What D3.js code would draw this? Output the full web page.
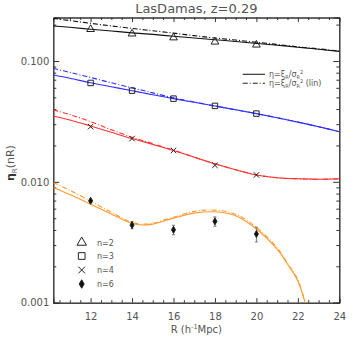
<!DOCTYPE html>
<html>
<head>
<meta charset="utf-8">
<script src="https://cdn.jsdelivr.net/npm/d3@7"></script>
<style>
  body { margin: 0; background: #fff; }
  svg text { font-family: "DejaVu Sans", sans-serif; fill: #555; }
</style>
</head>
<body>
<div id="chart"></div>
<script>
/* DATA */
const pointR = [12, 14, 16, 18, 20];
const n2 = [0.183, 0.168, 0.156, 0.144, 0.136];
const n3 = [0.0658, 0.0568, 0.0488, 0.0425, 0.0367];
const n4 = [0.0286, 0.0228, 0.0182, 0.0137, 0.0114];
const n6 = [0.00697, 0.00439, 0.00401, 0.00471, 0.0037];
const n6err = [0.0001, 0.0003, 0.00036, 0.00042, 0.00052];

// model curves
const curveR = [10.2, 11, 12, 13, 14, 14.5, 15, 16, 17, 18, 19, 20, 21, 22, 22.5, 23, 24];
const n2model = [0.195, 0.190, 0.183, 0.177, 0.171, 0.1685, 0.166, 0.160, 0.155, 0.150, 0.145, 0.140, 0.135, 0.130, 0.1275, 0.125, 0.120];
const n2lin   = [0.225, 0.216, 0.205, 0.195, 0.186, 0.182, 0.178, 0.170, 0.162, 0.155, 0.149, 0.143, 0.137, 0.131, 0.1285, 0.126, 0.121];
const n3model = [0.0766, 0.0720, 0.0660, 0.0612, 0.0568, 0.0546, 0.0526, 0.0488, 0.0455, 0.0424, 0.0395, 0.0367, 0.0339, 0.0312, 0.0299, 0.0286, 0.0260];
const n3lin   = [0.0870, 0.0805, 0.0730, 0.0660, 0.0600, 0.0572, 0.0545, 0.0495, 0.0458, 0.0424, 0.0395, 0.0367, 0.0339, 0.0312, 0.0299, 0.0286, 0.0260];
const n4model = [0.0351, 0.0325, 0.0290, 0.0257, 0.0228, 0.0216, 0.0204, 0.0182, 0.0160, 0.0141, 0.0126, 0.0114, 0.0108, 0.0106, 0.01055, 0.0105, 0.0106];
const n4lin   = [0.0394, 0.0360, 0.0315, 0.0270, 0.0234, 0.0220, 0.0207, 0.0183, 0.0160, 0.0141, 0.0126, 0.0114, 0.0108, 0.0106, 0.01055, 0.0105, 0.0106];
const orangeR = [10.2, 11, 12, 13, 14, 14.5, 15, 16, 17, 18, 19, 20, 21, 21.5, 22, 22.5];
const n6model = [0.00899, 0.00784, 0.00654, 0.00541, 0.00453, 0.00440, 0.00447, 0.00501, 0.00551, 0.00565, 0.00524, 0.00407, 0.00278, 0.00209, 0.00151, 0.0008];
const n6lin   = [0.00989, 0.00850, 0.00693, 0.00560, 0.00462, 0.00447, 0.00455, 0.00510, 0.00570, 0.00583, 0.00540, 0.00420, 0.00285, 0.00212, 0.00155, 0.0008];

const xMajor = [12, 14, 16, 18, 20, 22, 24];
const yMajor = [0.001, 0.01, 0.1];
const legendLabels = ["n=2", "n=3", "n=4", "n=6"];

/* LAYOUT */
const width = 358, height = 358,
  margin = { top: 17.5, bottom: 55.3, left: 53.3, right: 18.7 };

const svg = d3.select("#chart").append("svg")
  .attr("width", width).attr("height", height);

const xScale = d3.scaleLinear().domain([10.2, 24]).range([margin.left, width - margin.right]);
const yScale = d3.scaleLog().domain([0.001, 0.229]).range([height - margin.bottom, margin.top]);

const plotBottom = yScale.range()[0], plotTop = margin.top;
const plotLeft = margin.left, plotRight = xScale.range()[1];

svg.append("clipPath").attr("id", "clip")
  .append("rect")
  .attr("x", plotLeft).attr("y", plotTop)
  .attr("width", plotRight - plotLeft)
  .attr("height", plotBottom - plotTop);

/* AXES */
const xMinor = d3.range(10.5, 24.01, 0.5).filter(d => !xMajor.includes(d));
const yMinor = [];
[0.001, 0.01, 0.1].forEach(dec => d3.range(2, 10).forEach(m => {
  const v = dec * m;
  if (v < 0.229) yMinor.push(v);
}));

const axisColor = "#333";
function styleAxis(g) {
  g.select(".domain").attr("stroke", axisColor);
  g.selectAll(".tick line").attr("stroke", axisColor);
  g.selectAll(".tick text").attr("font-size", 10).attr("fill", "#555");
}

svg.append("g").attr("transform", `translate(0,${plotBottom})`)
  .call(d3.axisBottom(xScale).tickValues(xMinor).tickSize(-2.5).tickFormat(""))
  .call(styleAxis);
svg.append("g").attr("transform", `translate(0,${plotBottom})`)
  .call(d3.axisBottom(xScale).tickValues(xMajor).tickSize(-4.5).tickPadding(10).tickFormat(d3.format("d")))
  .call(styleAxis);
svg.append("g").attr("transform", `translate(0,${plotTop})`)
  .call(d3.axisTop(xScale).tickValues(xMinor).tickSize(-2.5).tickFormat(""))
  .call(styleAxis);
svg.append("g").attr("transform", `translate(0,${plotTop})`)
  .call(d3.axisTop(xScale).tickValues(xMajor).tickSize(-4.5).tickFormat(""))
  .call(styleAxis);

svg.append("g").attr("transform", `translate(${plotLeft},0)`)
  .call(d3.axisLeft(yScale).tickValues(yMinor).tickSize(-3).tickFormat(""))
  .call(styleAxis);
svg.append("g").attr("transform", `translate(${plotLeft},0)`)
  .call(d3.axisLeft(yScale).tickValues(yMajor).tickSize(-6).tickPadding(4).tickFormat(d3.format(".3f")))
  .call(styleAxis);
svg.append("g").attr("transform", `translate(${plotRight},0)`)
  .call(d3.axisRight(yScale).tickValues(yMinor).tickSize(-3).tickFormat(""))
  .call(styleAxis);
svg.append("g").attr("transform", `translate(${plotRight},0)`)
  .call(d3.axisRight(yScale).tickValues(yMajor).tickSize(-6).tickFormat(""))
  .call(styleAxis);

/* TITLES */
svg.append("text")
  .attr("x", (plotLeft + plotRight) / 2).attr("y", 13)
  .attr("text-anchor", "middle").attr("font-size", 13)
  .text("LasDamas, z=0.29");

const xl = svg.append("text")
  .attr("x", (plotLeft + plotRight) / 2).attr("y", 333)
  .attr("text-anchor", "middle").attr("font-size", 10);
xl.append("tspan").text("R (h");
xl.append("tspan").attr("font-size", 6.5).attr("dy", -4).text("-1");
xl.append("tspan").attr("dy", 4).text("Mpc)");

const yl = svg.append("text")
  .attr("transform", `translate(14,${(plotTop + plotBottom) / 2 + 3}) rotate(-90)`)
  .attr("text-anchor", "middle").attr("font-size", 11);
yl.append("tspan").attr("font-weight", "bold").attr("fill", "#333").text("η");
yl.append("tspan").attr("font-size", 7).attr("dy", 3).text("R");
yl.append("tspan").attr("dy", -3).text("(nR)");

/* CURVES */
const plot = svg.append("g").attr("clip-path", "url(#clip)");
const dashDot = "5,2,1,2";
const curves = [
  { xs: curveR, ys: n2model, color: "#111", dash: null },
  { xs: curveR, ys: n2lin, color: "#111", dash: dashDot },
  { xs: curveR, ys: n3model, color: "#2e2eff", dash: null },
  { xs: curveR, ys: n3lin, color: "#2e2eff", dash: dashDot },
  { xs: curveR, ys: n4model, color: "#ff3333", dash: null },
  { xs: curveR, ys: n4lin, color: "#ff3333", dash: dashDot },
  { xs: orangeR, ys: n6model, color: "#ff9a30", dash: null },
  { xs: orangeR, ys: n6lin, color: "#ff9a30", dash: dashDot },
];
const line = d3.line()
  .x(d => xScale(d[0])).y(d => yScale(d[1]))
  .curve(d3.curveCatmullRom.alpha(0.5));

plot.selectAll(".model")
  .data(curves)
  .join("path")
  .attr("class", "model")
  .attr("fill", "none")
  .attr("stroke", d => d.color)
  .attr("stroke-width", 1.1)
  .attr("stroke-dasharray", d => d.dash)
  .attr("d", d => line(d.xs.map((x, i) => [x, d.ys[i]])));

/* POINTS */
const timesSymbol = {
  draw(ctx, size) {
    const r = Math.sqrt(size) / 2;
    ctx.moveTo(-r, -r); ctx.lineTo(r, r);
    ctx.moveTo(-r, r); ctx.lineTo(r, -r);
  }
};
const series = [
  { ys: n2, sym: d3.symbolTriangle, size: 26, fill: "none" },
  { ys: n3, sym: d3.symbolSquare, size: 30, fill: "none" },
  { ys: n4, sym: timesSymbol, size: 30, fill: "none" },
  { ys: n6, sym: d3.symbolDiamond, size: 14, fill: "#111" },
];

// error bars for n=6
plot.selectAll(".err")
  .data(pointR.map((x, i) => ({ x, y: n6[i], e: n6err[i] })))
  .join("g")
  .attr("class", "err")
  .attr("stroke", "#777")
  .attr("stroke-width", 1)
  .each(function (d) {
    const g = d3.select(this);
    const cx = xScale(d.x);
    g.append("line").attr("x1", cx).attr("x2", cx)
      .attr("y1", yScale(d.y - d.e)).attr("y2", yScale(d.y + d.e));
    [d.y - d.e, d.y + d.e].forEach(v => g.append("line")
      .attr("x1", cx - 1.5).attr("x2", cx + 1.5)
      .attr("y1", yScale(v)).attr("y2", yScale(v)));
  });

series.forEach(s => {
  plot.selectAll(null)
    .data(pointR.map((x, i) => [x, s.ys[i]]))
    .join("path")
    .attr("transform", d => `translate(${xScale(d[0])},${yScale(d[1])})`)
    .attr("d", d3.symbol(s.sym, s.size))
    .attr("fill", s.fill)
    .attr("stroke", "#222")
    .attr("stroke-width", 1);
});

/* LEGENDS */
const legY = [242.5, 256, 270, 284];
series.forEach((s, i) => {
  svg.append("path")
    .attr("transform", `translate(81.7,${legY[i]})`)
    .attr("d", d3.symbol(s.sym, s.size * 1.5))
    .attr("fill", s.fill)
    .attr("stroke", "#222")
    .attr("stroke-width", 1);
  svg.append("text")
    .attr("x", 97).attr("y", legY[i] + 3)
    .attr("font-size", 8)
    .text(legendLabels[i]);
});

const lineLeg = [
  { y: 74.3, dash: null, extra: "" },
  { y: 83.3, dash: dashDot, extra: " (lin)" },
];
lineLeg.forEach(l => {
  svg.append("line")
    .attr("x1", 242.7).attr("x2", 265).attr("y1", l.y).attr("y2", l.y)
    .attr("stroke", "#222").attr("stroke-width", 1.1)
    .attr("stroke-dasharray", l.dash);
  const t = svg.append("text").attr("x", 269).attr("y", l.y + 3).attr("font-size", 8);
  t.append("tspan").text("η=ξ");
  t.append("tspan").attr("font-size", 5).attr("dy", 1.5).text("R");
  t.append("tspan").attr("dy", -1.5).text("/σ");
  t.append("tspan").attr("font-size", 5).attr("dy", 1.5).text("R");
  t.append("tspan").attr("font-size", 5).attr("dy", -4.5).text("2");
  t.append("tspan").attr("dy", 3).text(l.extra);
});
</script>
</body>
</html>
